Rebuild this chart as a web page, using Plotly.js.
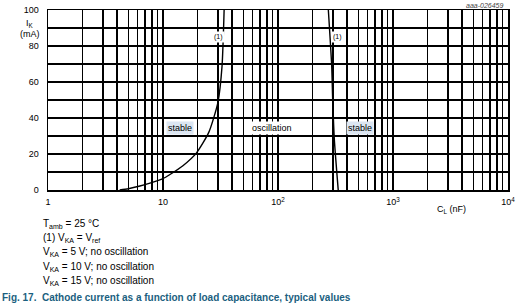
<!DOCTYPE html>
<html>
<head>
<meta charset="utf-8">
<script src="https://cdn.plot.ly/plotly-3.0.1.min.js"></script>
<style>
  html, body { margin: 0; padding: 0; background: #fff; }
  #chart { width: 519px; height: 307px; }
</style>
</head>
<body>
<div id="chart"></div>
<script>
// Stability boundary for V_KA = V_ref: load capacitance (nF) vs cathode current (mA)
const lowCap = [4.2, 5, 6.3, 7.7, 10, 11.5, 14.9, 19.5, 25, 30, 32.6, 34];
const lowCurrent = [0, 0.7, 2.2, 3.8, 6.3, 8.6, 13.5, 20.5, 32, 48.6, 68.7, 100];
const highCap = [274, 293, 299, 309, 334];
const highCurrent = [100, 69, 50, 28, 0];

// Axis ticks: labels at decades / every 20 mA, grid at every 1..9 per decade / every 10 mA
const decadeTicks = [1, 10, 100, 1000, 10000];
const decadeLabels = ['1', '10', '10<sup>2</sup>', '10<sup>3</sup>', '10<sup>4</sup>'];
const currentTicks = [0, 20, 40, 60, 80, 100];
const currentMinor = [10, 30, 50, 70, 90];

const capMinor = [];
for (let d = 0; d < 4; d++) {
  for (let m = 2; m <= 9; m++) capMinor.push(m * Math.pow(10, d));
}

const font = 'Liberation Sans, Arial, sans-serif';
const curveStyle = { color: '#000', width: 1.4, shape: 'spline', smoothing: 0.6 };

const traces = [
  { x: lowCap, y: lowCurrent, mode: 'lines', line: curveStyle, hoverinfo: 'skip' },
  { x: highCap, y: highCurrent, mode: 'lines', line: curveStyle, hoverinfo: 'skip' }
];

const L = 48, R = 508, T = 10, B = 190;
const px = x => (x - L) / (R - L);
const py = y => (B - y) / (B - T);

const note = (text, x, y, extra) => Object.assign({
  text: text, xref: 'paper', yref: 'paper', x: px(x), y: py(y),
  xanchor: 'left', yanchor: 'middle', showarrow: false,
  font: { family: font, size: 10, color: '#000' }
}, extra || {});

const annotations = [
  note('I<sub>K</sub>', 30, 24, { xanchor: 'center', font: { family: font, size: 9, color: '#000' } }),
  note('(mA)', 30, 34, { xanchor: 'center', font: { family: font, size: 9, color: '#000' } }),
  note('C<sub>L</sub> (nF)', 451, 209, { xanchor: 'center', font: { family: font, size: 9, color: '#000' } }),
  note('aaa-026459', 484, 5, { xanchor: 'center', font: { family: font, size: 7, color: '#444', style: 'italic' } }),
  note('(1)', 218, 37, { xanchor: 'center', bgcolor: '#fff', borderpad: 1, font: { family: font, size: 7, color: '#000' } }),
  note('(1)', 337, 37, { xanchor: 'center', bgcolor: '#fff', borderpad: 1, font: { family: font, size: 7, color: '#000' } }),
  note('stable', 180, 128, { xanchor: 'center', bgcolor: '#dce6f2', borderpad: 1, font: { family: font, size: 9, color: '#000' } }),
  note('oscillation', 272, 128, { xanchor: 'center', bgcolor: '#fff', borderpad: 1, font: { family: font, size: 9, color: '#000' } }),
  note('stable', 360, 128, { xanchor: 'center', bgcolor: '#dce6f2', borderpad: 1, font: { family: font, size: 9, color: '#000' } }),
  note('T<sub>amb</sub> = 25 °C', 41, 224),
  note('(1) V<sub>KA</sub> = V<sub>ref</sub>', 41, 238),
  note('V<sub>KA</sub> = 5 V; no oscillation', 41, 252),
  note('V<sub>KA</sub> = 10 V; no oscillation', 41, 267),
  note('V<sub>KA</sub> = 15 V; no oscillation', 41, 281),
  note('<b>Fig. 17.  Cathode current as a function of load capacitance, typical values</b>', 0, 297,
       { font: { family: font, size: 10, color: '#1b5f80' } })
];

const gridStyle = { showgrid: true, gridcolor: '#000', gridwidth: 1.5 };

const layout = {
  width: 519, height: 307,
  margin: { l: L, r: 519 - R, t: T, b: 307 - B, pad: 0 },
  paper_bgcolor: '#fff', plot_bgcolor: '#fff',
  showlegend: false,
  xaxis: Object.assign({
    type: 'log', range: [0, 4], tickmode: 'array', tickvals: decadeTicks, ticktext: decadeLabels,
    minor: Object.assign({ tickmode: 'array', tickvals: capMinor, ticks: '' }, gridStyle),
    showline: true, linecolor: '#000', linewidth: 1.5, mirror: true,
    ticks: '', ticklabelstandoff: 3, zeroline: false,
    tickfont: { family: font, size: 9, color: '#000' }
  }, gridStyle),
  yaxis: Object.assign({
    range: [0, 100], tickmode: 'array', tickvals: currentTicks,
    minor: Object.assign({ tickmode: 'array', tickvals: currentMinor, ticks: '' }, gridStyle),
    showline: true, linecolor: '#000', linewidth: 1.5, mirror: true,
    ticks: '', ticklabelstandoff: 6, zeroline: false,
    tickfont: { family: font, size: 9, color: '#000' }
  }, gridStyle),
  annotations: annotations
};

Plotly.newPlot('chart', traces, layout, { staticPlot: true, displayModeBar: false });
</script>
</body>
</html>
